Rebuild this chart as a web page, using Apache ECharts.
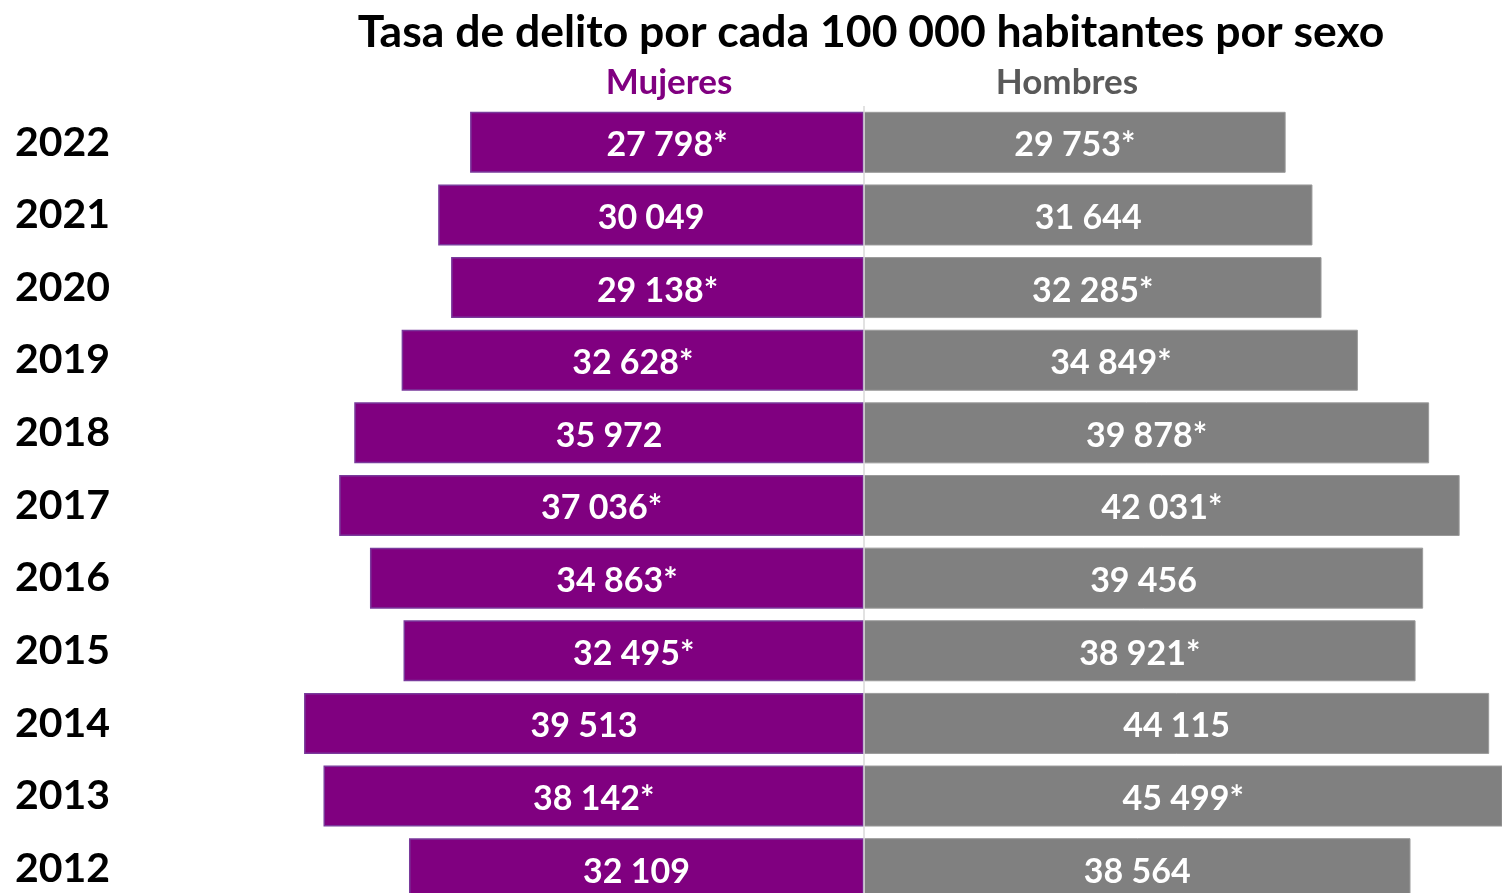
<!DOCTYPE html>
<html>
<head>
<meta charset="utf-8">
<script src="https://cdn.jsdelivr.net/npm/echarts@6/dist/echarts.min.js"></script>
<style>
  html, body { margin: 0; padding: 0; background: #fff; }
  #chart { width: 1502px; height: 893px; }
</style>
</head>
<body>
<div id="chart"></div>
<script>
// datos
const years = ['2022', '2021', '2020', '2019', '2018', '2017', '2016', '2015', '2014', '2013', '2012']
const mujeres = [27798, 30049, 29138, 32628, 35972, 37036, 34863, 32495, 39513, 38142, 32109]
const hombres = [29753, 31644, 32285, 34849, 39878, 42031, 39456, 38921, 44115, 45499, 38564]
// asterisco = diferencia significativa
const mujeresSig = [true, false, true, true, false, true, true, true, false, true, false]
const hombresSig = [true, false, true, true, true, true, false, true, false, true, false]

const FONT = 'Lato, "Open Sans", sans-serif'

const fmt = (v, sig) => {
  const s = String(Math.abs(v)).replace(/\B(?=(\d{3})+(?!\d))/g, ' ')
  return sig ? s + '*' : s
}

const myChart = echarts.init(document.getElementById('chart'))

const option = {
  animation: false,
  backgroundColor: '#fff',
  title: [
    {
      text: 'Tasa de delito por cada 100 000 habitantes por sexo',
      left: 866,
      top: 5,
      textAlign: 'center',
      textStyle: { fontFamily: FONT, fontWeight: 'bold', fontSize: 44.5, color: '#000' }
    },
    {
      text: 'Mujeres',
      left: 664,
      top: 60,
      textAlign: 'center',
      textStyle: { fontFamily: FONT, fontWeight: 'bold', fontSize: 35, color: '#800080' }
    },
    {
      text: 'Hombres',
      left: 1062,
      top: 60,
      textAlign: 'center',
      textStyle: { fontFamily: FONT, fontWeight: 'bold', fontSize: 35, color: '#595959' }
    }
  ],
  grid: {
    left: 264,
    right: 0,
    top: 106,
    bottom: -12,
    containLabel: false,
    outerBoundsMode: 'none'
  },
  xAxis: {
    type: 'value',
    min: -42340,
    max: 45020,
    show: false,
    splitLine: { show: false }
  },
  yAxis: {
    type: 'category',
    data: years,
    inverse: true,
    axisLine: { show: false, onZero: false },
    axisTick: { show: false },
    axisLabel: {
      align: 'left',
      margin: 249,
      fontFamily: FONT,
      fontWeight: 'bold',
      fontSize: 41,
      color: '#000'
    }
  },
  series: [
    {
      name: 'Mujeres',
      type: 'bar',
      data: mujeres.map(v => -v),
      barWidth: 61,
      barGap: '-100%',
      itemStyle: { color: '#800080', borderColor: '#7a3a9c', borderWidth: 1.5 },
      label: {
        show: true,
        position: 'inside',
        offset: [0, 3],
        formatter: p => fmt(p.value, mujeresSig[p.dataIndex]),
        fontFamily: FONT,
        fontWeight: 'bold',
        fontSize: 34,
        color: '#fff'
      }
    },
    {
      name: 'Hombres',
      type: 'bar',
      data: hombres,
      barWidth: 61,
      barGap: '-100%',
      itemStyle: { color: '#808080', borderColor: '#9a9a9a', borderWidth: 1 },
      label: {
        show: true,
        position: 'inside',
        offset: [0, 3],
        formatter: p => fmt(p.value, hombresSig[p.dataIndex]),
        fontFamily: FONT,
        fontWeight: 'bold',
        fontSize: 34,
        color: '#fff'
      },
      markLine: {
        silent: true,
        symbol: 'none',
        label: { show: false },
        lineStyle: { color: '#d9d9d9', width: 1.5, type: 'solid' },
        data: [{ xAxis: 0 }]
      }
    }
  ]
}

myChart.setOption(option)
</script>
</body>
</html>
